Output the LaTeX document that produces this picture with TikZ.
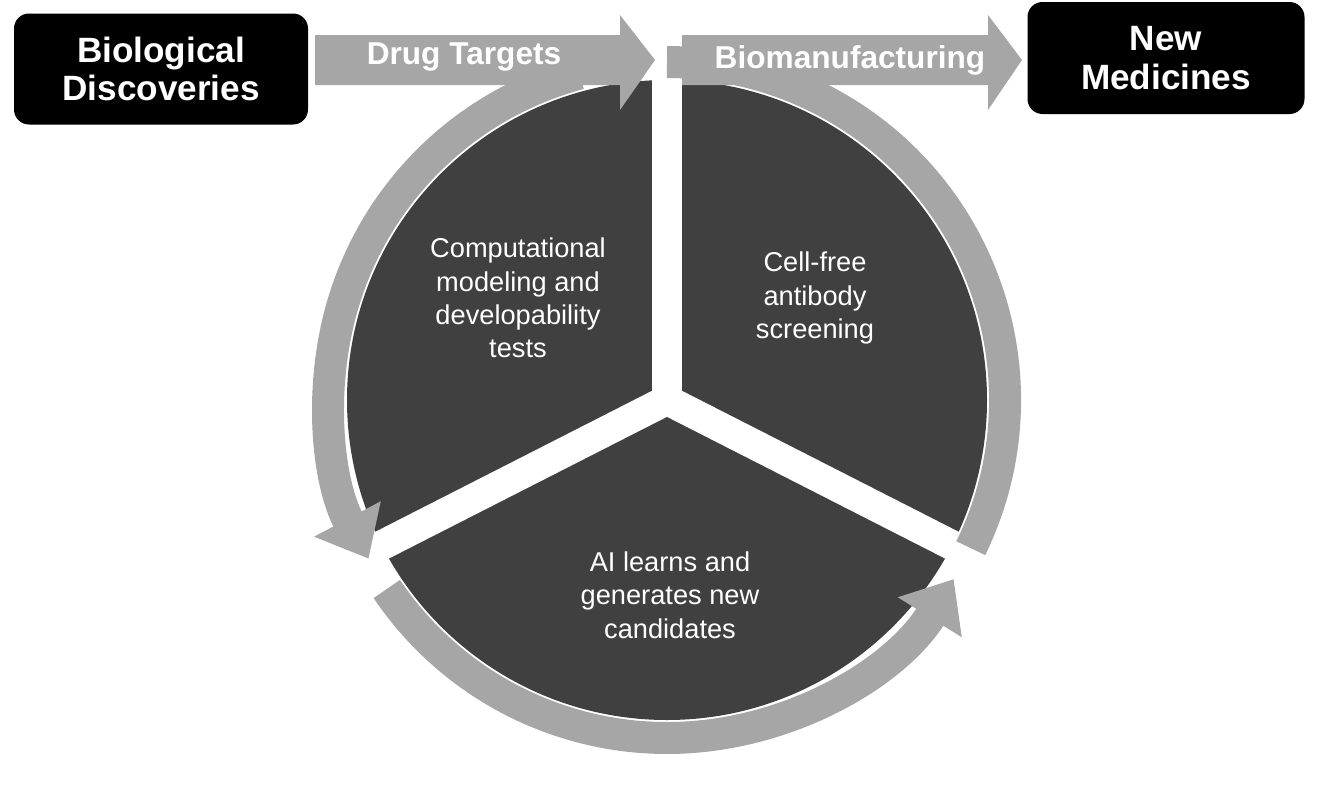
\documentclass[tikz,border=0pt]{standalone}
\usepackage{fontspec}
\setmainfont{Liberation Sans}
\usetikzlibrary{arrows.meta}
\definecolor{ringgray}{RGB}{166,166,166}
\definecolor{pie}{RGB}{64,64,64}
\begin{document}
\begin{tikzpicture}[x=0.02cm,y=-0.02cm,
  box/.style={fill=black,rounded corners=0.3cm,text=white,font=\fontsize{20}{22}\selectfont\bfseries,align=center,inner sep=0},
  inner/.style={text=white,font=\fontsize{15.5}{19}\selectfont,align=center},
  ring/.style={draw=ringgray,line width=0.64cm,-{Triangle[width=1.45cm,length=0.9cm]}},
  lbl/.style={text=white,font=\fontsize{18}{20}\selectfont\bfseries}]
\useasboundingbox (0,0) rectangle (1333,791);
\coordinate (c) at (667,400);
% pie
\fill[pie] (c) circle[radius=320];
\foreach \a in {90,207,-27}
  \draw[white,line width=0.6cm] (c) -- ++(\a:-335);
\draw[white,line width=0.6cm] (c) -- (667,0);
% ring arcs (y flipped: use explicit angles in flipped frame)
\draw[ring] ([shift={(75:-338)}]c) arc[start angle=75,end angle=-28,radius=-338];
\draw[ring] ([shift={(-34:-338)}]c) arc[start angle=-34,end angle=-148,radius=-338];
\draw[ring,-] ([shift={(-154:-338)}]c) arc[start angle=-154,end angle=-270,radius=-338];
% top arrows
\fill[ringgray] (315,35) -- (620,35) -- (620,15) -- (655,60) -- (620,110) -- (620,85) -- (315,85) -- cycle;
\fill[ringgray] (682,35) -- (988,35) -- (988,15) -- (1022,60) -- (988,110) -- (988,85) -- (682,85) -- cycle;
\node[lbl] (dt) at (464,57) {Drug Targets};
\node[lbl] (bm) at (850,60) {Biomanufacturing};
% boxes
\node[box,minimum width=294*0.02cm,minimum height=111*0.02cm] (bd) at (161,69) {Biological\\Discoveries};
\node[box,minimum width=277*0.02cm,minimum height=112*0.02cm] (nm) at (1166,58) {New\\Medicines};
% inner texts
\node[inner] (t1) at (518,298) {Computational\\modeling and\\developability\\tests};
\node[inner] (t2) at (815,298) {Cell-free\\antibody\\screening};
\node[inner] (t3) at (670,595) {AI learns and\\generates new\\candidates};
\end{tikzpicture}
\end{document}
